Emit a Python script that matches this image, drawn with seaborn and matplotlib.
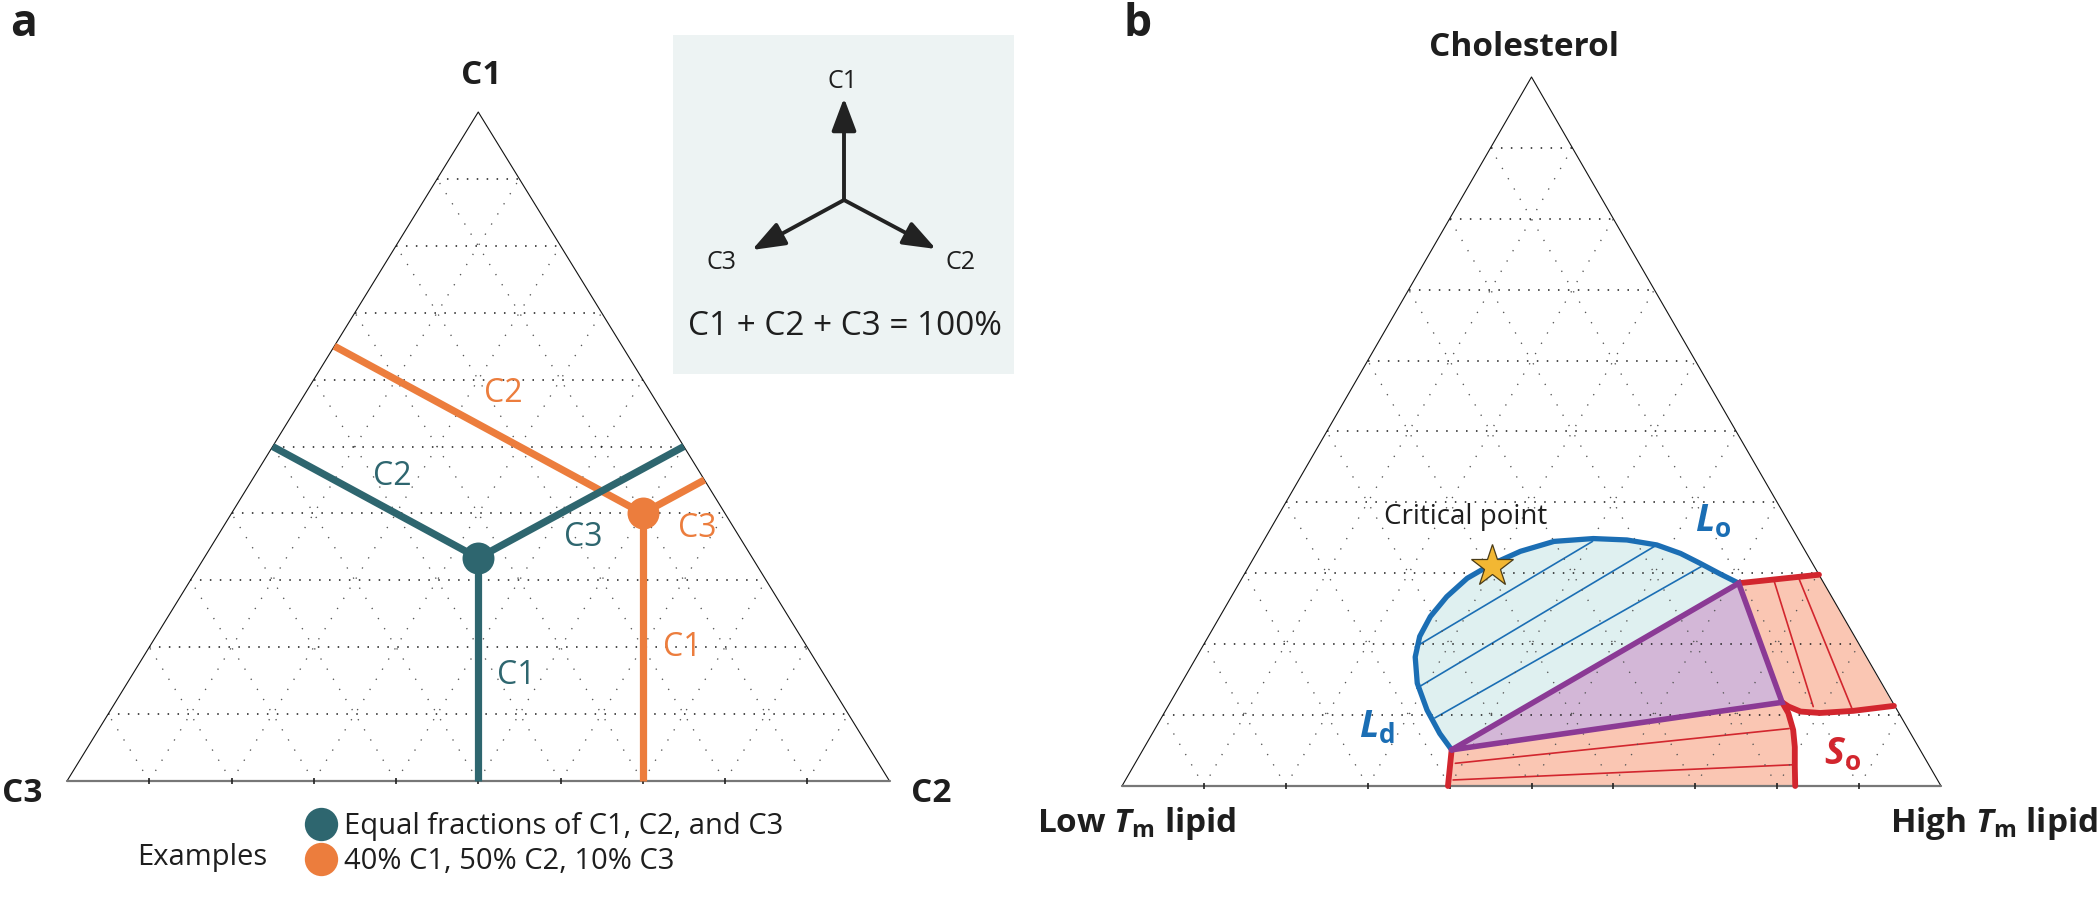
import numpy as np
import matplotlib
matplotlib.use("Agg")
import matplotlib.pyplot as plt
import seaborn as sns
from matplotlib.lines import Line2D

sns.set_theme(style="white")
plt.rcParams['font.family'] = ['Open Sans', 'DejaVu Sans']
plt.rcParams['mathtext.fontset'] = 'custom'
plt.rcParams['mathtext.rm'] = 'Open Sans'
plt.rcParams['mathtext.it'] = 'Open Sans:italic'
plt.rcParams['mathtext.bf'] = 'Open Sans:bold'
plt.rcParams['mathtext.bfit'] = 'Open Sans:italic:bold'

W, H, DPI = 2100, 897, 100

# ------------------------------------------------------------------ data
GRID_FRACTIONS = [0.1, 0.2, 0.3, 0.4, 0.5, 0.6, 0.7, 0.8, 0.9]

# panel a : compositions (C1, C2, C3)
A_CORNERS = ["C1", "C2", "C3"]                 # top, right, left
EQUAL_MIX = [1 / 3, 1 / 3, 1 / 3]
EXAMPLE_MIX = [0.40, 0.50, 0.10]
LINE_LABELS = ["C1", "C2", "C3"]
EXAMPLE_LABELS = ["Equal fractions of C1, C2, and C3", "40% C1, 50% C2, 10% C3"]
LEGEND_TITLE = "Examples"
INSET_LABELS = ["C1", "C2", "C3"]
EQUATION = "C1 + C2 + C3 = 100%"

# panel b : compositions in % (cholesterol, high-Tm lipid)
B_CORNERS = ["Cholesterol", r"High $\mathbfit{T}_{\mathbf{m}}$ lipid",
             r"Low $\mathbfit{T}_{\mathbf{m}}$ lipid"]
LDLO_CHOL = [5.1, 7.4, 10.7, 14.5, 18.2, 21.1, 23.9, 26.7, 29.3, 31.2,
             33.1, 34.5, 34.9, 34.7, 34.0, 32.8, 31.4, 29.9, 28.6]
LDLO_HIGH = [37.7, 35.1, 31.9, 28.8, 26.7, 25.8, 25.7, 26.3, 27.5, 29.4,
             32.1, 35.5, 40.1, 44.3, 48.3, 51.8, 54.9, 58.1, 61.0]
LDLO_TIE_CHOL_START = [19.6, 13.8, 9.6]
LDLO_TIE_HIGH_START = [26.0, 29.1, 33.4]
LDLO_TIE_CHOL_END = [34.5, 34.0, 31.0]
LDLO_TIE_HIGH_END = [40.2, 48.3, 55.3]

THREE_PHASE_CHOL = [5.1, 28.6, 11.8]          # Ld, Lo, So vertices
THREE_PHASE_HIGH = [37.7, 61.0, 74.7]

LOSO_TOP_CHOL = [28.6, 29.8]
LOSO_TOP_HIGH = [61.0, 70.2]
LOSO_BOTTOM_CHOL = [11.3, 10.6, 10.3, 10.5, 11.2, 11.8]
LOSO_BOTTOM_HIGH = [88.6, 84.0, 80.1, 77.6, 75.8, 74.7]
LOSO_TIE_CHOL_START = [29.0, 29.4]
LOSO_TIE_HIGH_START = [65.1, 67.9]
LOSO_TIE_CHOL_END = [11.2, 11.0]
LOSO_TIE_HIGH_END = [78.8, 83.6]

LDSO_LEFT_CHOL = [5.1, 0.0]
LDSO_LEFT_HIGH = [37.7, 39.8]
LDSO_RIGHT_CHOL = [11.8, 10.3, 7.9, 5.5, 2.7, 0.0]
LDSO_RIGHT_HIGH = [74.7, 76.2, 78.0, 79.4, 80.8, 82.2]
LDSO_TIE_CHOL_START = [3.2, 0.85]
LDSO_TIE_HIGH_START = [39.1, 40.0]
LDSO_TIE_CHOL_END = [8.1, 3.0]
LDSO_TIE_HIGH_END = [77.4, 80.5]

CRITICAL_CHOL, CRITICAL_HIGH = 31.0, 29.7

# ------------------------------------------------------------------ style
TEAL = "#2E666F"
ORANGE = "#EC7D3D"
BLUE = "#1B6EB4"
LIGHTBLUE = "#DFF0F0"
PURPLE = "#8B3A95"
PURPLEFILL = "#D3B7D7"
RED = "#D2262E"
PINK = "#FAC6B3"
INK = "#1E1E1E"


def tern(top, right):
    """ternary (top, right) fractions -> axes data coordinates."""
    top = np.asarray(top, float)
    right = np.asarray(right, float)
    return right + 0.5 * top, top


def pct(a):
    return np.asarray(a, float) / 100.0


fig = plt.figure(figsize=(W / DPI, H / DPI), dpi=DPI)


def ftext(x, y, s, **kw):
    kw.setdefault("ha", "center")
    kw.setdefault("va", "center")
    return fig.text(x / W, 1 - y / H, s, **kw)


def tri_axes(left, bottom_y, right, top_y):
    ax = fig.add_axes([left / W, 1 - bottom_y / H, (right - left) / W,
                       (bottom_y - top_y) / H])
    ax.set_xlim(0, 1)
    ax.set_ylim(0, 1)
    ax.axis("off")
    return ax


def draw_frame(ax):
    for f in GRID_FRACTIONS:
        x, y = tern([f, f], [0, 1 - f])
        ax.plot(x, y, ls=(0, (1, 5.5)), lw=1.1, color="#1a1a1a", zorder=3,
                clip_on=False)
        x, y = tern([0, 1 - f], [f, f])
        ax.plot(x, y, ls=(0, (1, 8)), lw=0.95, color="#555555", zorder=3,
                clip_on=False)
        x, y = tern([0, 1 - f], [1 - f, 0])
        ax.plot(x, y, ls=(0, (1, 8)), lw=0.95, color="#555555", zorder=3,
                clip_on=False)
    x, y = tern([0, 1, 0], [0, 0, 1])
    ax.plot(x, y, color="#111111", lw=0.8, zorder=4, clip_on=False)
    x, y = tern([0, 0], [0, 1])
    ax.plot(x, y, color="#777777", lw=1.6, zorder=4, clip_on=False)
    x, y = tern(np.zeros(len(GRID_FRACTIONS)), GRID_FRACTIONS)
    ax.plot(x, y, ls="none", marker="|", ms=4, mew=1.2, color="#222222",
            zorder=4, clip_on=False)


# ================================================================ panel a
axa = tri_axes(67, 781, 889.5, 112)
draw_frame(axa)


def perpendicular_feet(mix):
    c1, c2, c3 = mix
    s = np.sqrt(3) / 2
    x, ye = c2 + 0.5 * c1, c1 * s
    t_left = 0.5 * x + s * ye
    t_right = -0.5 * (x - 1) + s * ye
    return [(0.0, x), (t_left, 0.0), (t_right, 1 - t_right)]   # C1, C2, C3 lines


for mix, col, z in [(EXAMPLE_MIX, ORANGE, 5), (EQUAL_MIX, TEAL, 6)]:
    px, py = tern(mix[0], mix[1])
    for (ft, fr) in perpendicular_feet(mix):
        fx, fy = tern(ft, fr)
        axa.plot([px, fx], [py, fy], color=col, lw=5.2, solid_capstyle="butt",
                 zorder=z, clip_on=False)
    axa.plot([px], [py], marker="o", ms=23, color=col, mec="none", zorder=z + 0.5,
             clip_on=False)

# labels on the construction lines
for (x, y, s, c) in [(516, 675, LINE_LABELS[0], TEAL), (392, 476, LINE_LABELS[1], TEAL),
                     (583, 538, LINE_LABELS[2], TEAL), (682, 648, LINE_LABELS[0], ORANGE),
                     (503, 393, LINE_LABELS[1], ORANGE), (697, 528, LINE_LABELS[2], ORANGE)]:
    ftext(x, y, s, color=c, fontsize=23)

ftext(481, 75, A_CORNERS[0], fontsize=24, fontweight="bold", color=INK)
ftext(931, 793, A_CORNERS[1], fontsize=24, fontweight="bold", color=INK)
ftext(22, 793, A_CORNERS[2], fontsize=24, fontweight="bold", color=INK)
ftext(24, 24, "a", fontsize=32, fontweight="bold", color=INK)

# legend
handles = [Line2D([], [], ls="none", marker="o", ms=24, mfc=c, mec="none")
           for c in (TEAL, ORANGE)]
fig.legend(handles, EXAMPLE_LABELS, loc="upper left",
           bbox_to_anchor=(303 / W, 1 - 812 / H), frameon=False, fontsize=21,
           handlelength=1.2, handletextpad=0.2, labelspacing=0.2,
           borderpad=0, borderaxespad=0, labelcolor=INK)
ftext(202, 857, LEGEND_TITLE, fontsize=21, color=INK)

# inset
axi = fig.add_axes([673 / W, 1 - 374 / H, 341 / W, 339 / H])
axi.set_xlim(0, 341)
axi.set_ylim(339, 0)
axi.set_facecolor("#EDF3F3")
axi.set_xticks([])
axi.set_yticks([])
for sp in axi.spines.values():
    sp.set_visible(False)
center = (171, 165)
tips = [(171, 63), (263, 214), (79, 215)]
label_pos = [(170, 47), (288, 228), (49, 228)]
for tip, lp, lab in zip(tips, label_pos, INSET_LABELS):
    axi.annotate("", xy=tip, xytext=center,
                 arrowprops=dict(arrowstyle="-|>,head_length=0.8,head_width=0.3",
                                 mutation_scale=25, lw=2.8, color="#222222",
                                 shrinkA=0, shrinkB=0))
    axi.text(lp[0], lp[1], lab, ha="center", va="center", fontsize=18, color=INK)
axi.text(172, 292, EQUATION, ha="center", va="center", fontsize=24, color=INK)

# ================================================================ panel b
axb = tri_axes(1122, 786, 1941, 77)
draw_frame(axb)

# Ld + Lo region
bx, by = tern(pct(LDLO_CHOL), pct(LDLO_HIGH))
axb.fill(bx, by, color=LIGHTBLUE, zorder=1, lw=0)
for c0, h0, c1, h1 in zip(LDLO_TIE_CHOL_START, LDLO_TIE_HIGH_START,
                          LDLO_TIE_CHOL_END, LDLO_TIE_HIGH_END):
    x, y = tern(pct([c0, c1]), pct([h0, h1]))
    axb.plot(x, y, color=BLUE, lw=1.2, zorder=2)

# Lo + So region
ux = np.concatenate([tern(pct(LOSO_TOP_CHOL), pct(LOSO_TOP_HIGH))[0],
                     tern(pct(LOSO_BOTTOM_CHOL), pct(LOSO_BOTTOM_HIGH))[0]])
uy = np.concatenate([tern(pct(LOSO_TOP_CHOL), pct(LOSO_TOP_HIGH))[1],
                     tern(pct(LOSO_BOTTOM_CHOL), pct(LOSO_BOTTOM_HIGH))[1]])
axb.fill(ux, uy, color=PINK, zorder=1, lw=0)
for c0, h0, c1, h1 in zip(LOSO_TIE_CHOL_START, LOSO_TIE_HIGH_START,
                          LOSO_TIE_CHOL_END, LOSO_TIE_HIGH_END):
    x, y = tern(pct([c0, c1]), pct([h0, h1]))
    axb.plot(x, y, color=RED, lw=1.2, zorder=2)

# Ld + So region
lx = np.concatenate([tern(pct(LDSO_LEFT_CHOL), pct(LDSO_LEFT_HIGH))[0],
                     tern(pct(LDSO_RIGHT_CHOL), pct(LDSO_RIGHT_HIGH))[0][::-1]])
ly = np.concatenate([tern(pct(LDSO_LEFT_CHOL), pct(LDSO_LEFT_HIGH))[1],
                     tern(pct(LDSO_RIGHT_CHOL), pct(LDSO_RIGHT_HIGH))[1][::-1]])
axb.fill(lx, ly, color=PINK, zorder=1, lw=0, clip_on=False)
for c0, h0, c1, h1 in zip(LDSO_TIE_CHOL_START, LDSO_TIE_HIGH_START,
                          LDSO_TIE_CHOL_END, LDSO_TIE_HIGH_END):
    x, y = tern(pct([c0, c1]), pct([h0, h1]))
    axb.plot(x, y, color=RED, lw=1.2, zorder=2)

# three-phase triangle
tx, ty = tern(pct(THREE_PHASE_CHOL), pct(THREE_PHASE_HIGH))
axb.fill(tx, ty, color=PURPLEFILL, zorder=1.5, lw=0)

# boundaries
axb.plot(bx, by, color=BLUE, lw=3.8, zorder=5, solid_capstyle="round")
for cc, hh in [(LOSO_TOP_CHOL, LOSO_TOP_HIGH), (LOSO_BOTTOM_CHOL, LOSO_BOTTOM_HIGH),
               (LDSO_LEFT_CHOL, LDSO_LEFT_HIGH), (LDSO_RIGHT_CHOL, LDSO_RIGHT_HIGH)]:
    x, y = tern(pct(cc), pct(hh))
    axb.plot(x, y, color=RED, lw=4.2, zorder=5, clip_on=False)
axb.plot(np.append(tx, tx[0]), np.append(ty, ty[0]), color=PURPLE, lw=4.0,
         zorder=6, solid_joinstyle="miter")

cx, cy = tern(pct(CRITICAL_CHOL), pct(CRITICAL_HIGH))
axb.plot([cx], [cy], marker="*", ms=32, mfc="#F2B733", mec="#4A3C18", mew=0.9,
         zorder=7)

ftext(1466, 517, "Critical point", fontsize=20, color=INK)
ftext(1713, 522, r"$\mathbfit{L}_{\mathbf{o}}$", fontsize=27, color=BLUE)
ftext(1377, 728, r"$\mathbfit{L}_{\mathbf{d}}$", fontsize=27, color=BLUE)
ftext(1843, 755, r"$\mathbfit{S}_{\mathbf{o}}$", fontsize=27, color=RED)

ftext(1524, 48, B_CORNERS[0], fontsize=24, fontweight="bold", color=INK)
ftext(1994, 823, B_CORNERS[1], fontsize=24, fontweight="bold", color=INK)
ftext(1137, 823, B_CORNERS[2], fontsize=24, fontweight="bold", color=INK)
ftext(1138, 24, "b", fontsize=32, fontweight="bold", color=INK)

fig.savefig("out.png", dpi=DPI)
